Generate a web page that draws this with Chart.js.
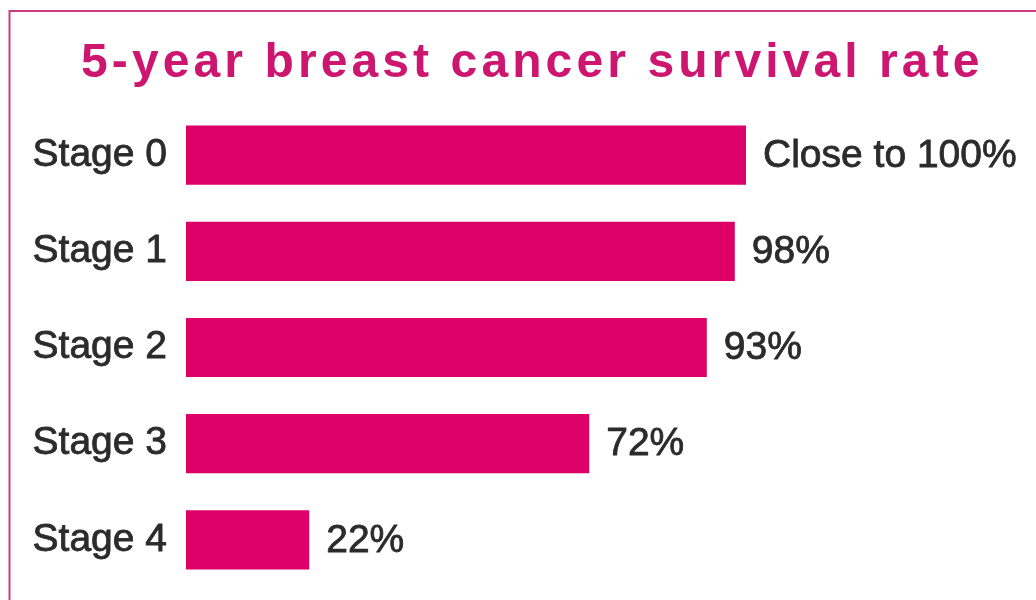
<!DOCTYPE html>
<html>
<head>
<meta charset="utf-8">
<style>
html,body{margin:0;padding:0;background:#fff;}
#wrap{position:relative;width:1036px;height:600px;}
</style>
<script src="https://cdn.jsdelivr.net/npm/chart.js@4.4.1/dist/chart.umd.min.js"></script>
</head>
<body>
<div id="wrap"><canvas id="c" width="1036" height="600"></canvas></div>
<script>
const TITLE = '5-year breast cancer survival rate';
const categories = ['Stage 0', 'Stage 1', 'Stage 2', 'Stage 3', 'Stage 4'];
const survivalRates = [100, 98, 93, 72, 22];
const valueLabels = ['Close to 100%', '98%', '93%', '72%', '22%'];

const FONT = '"Liberation Sans", Arial, Helvetica, sans-serif';
const PINK = '#dc0067';
const TITLE_PINK = '#cc1670';
const FRAME_PINK = '#cc3a82';
const TEXT = '#2b2b2b';

const framePlugin = {
  id: 'frame',
  beforeDraw(chart) {
    const ctx = chart.ctx;
    ctx.save();
    ctx.fillStyle = '#ffffff';
    ctx.fillRect(0, 0, chart.width, chart.height);
    ctx.strokeStyle = FRAME_PINK;
    ctx.lineWidth = 2;
    ctx.beginPath();
    ctx.moveTo(9.5, chart.height);
    ctx.lineTo(9.5, 11);
    ctx.lineTo(chart.width, 11);
    ctx.stroke();
    ctx.restore();
  }
};

const titlePlugin = {
  id: 'spacedTitle',
  afterDraw(chart) {
    const ctx = chart.ctx;
    ctx.save();
    ctx.font = 'bold 48px ' + FONT;
    ctx.fillStyle = TITLE_PINK;
    ctx.textAlign = 'left';
    ctx.textBaseline = 'alphabetic';
    try { ctx.letterSpacing = '4.1px'; } catch (e) {}
    ctx.fillText(TITLE, 81, 77);
    ctx.restore();
  }
};

const valueLabelPlugin = {
  id: 'valueLabels',
  afterDatasetsDraw(chart) {
    const ctx = chart.ctx;
    const meta = chart.getDatasetMeta(0);
    ctx.save();
    ctx.font = '39px ' + FONT;
    ctx.fillStyle = TEXT;
    ctx.strokeStyle = TEXT;
    ctx.lineWidth = 0.8;
    ctx.textAlign = 'left';
    ctx.textBaseline = 'middle';
    meta.data.forEach((bar, i) => {
      ctx.fillText(valueLabels[i], bar.x + 17, bar.y + 1);
      ctx.strokeText(valueLabels[i], bar.x + 17, bar.y + 1);
    });
    ctx.restore();
  }
};

new Chart(document.getElementById('c'), {
  type: 'bar',
  data: {
    labels: categories,
    datasets: [{
      data: survivalRates,
      backgroundColor: PINK,
      borderWidth: 0,
      barPercentage: 0.615,
      categoryPercentage: 1
    }]
  },
  options: {
    indexAxis: 'y',
    responsive: false,
    animation: false,
    layout: { padding: { top: 107, bottom: 12, left: 0, right: 10 } },
    plugins: {
      legend: { display: false },
      title: { display: false },
      tooltip: { enabled: false }
    },
    scales: {
      x: { display: false, min: 0, max: 150 },
      y: {
        grid: { display: false, drawTicks: false },
        border: { display: false },
        ticks: {
          color: TEXT,
          font: { family: FONT, size: 39 },
          padding: 19,
          textStrokeColor: TEXT,
          textStrokeWidth: 0.8
        },
        afterFit(axis) {
          axis.width = 186;
          axis.paddingTop = 0;
          axis.paddingBottom = 0;
        }
      }
    }
  },
  plugins: [framePlugin, valueLabelPlugin, titlePlugin]
});
</script>
</body>
</html>
